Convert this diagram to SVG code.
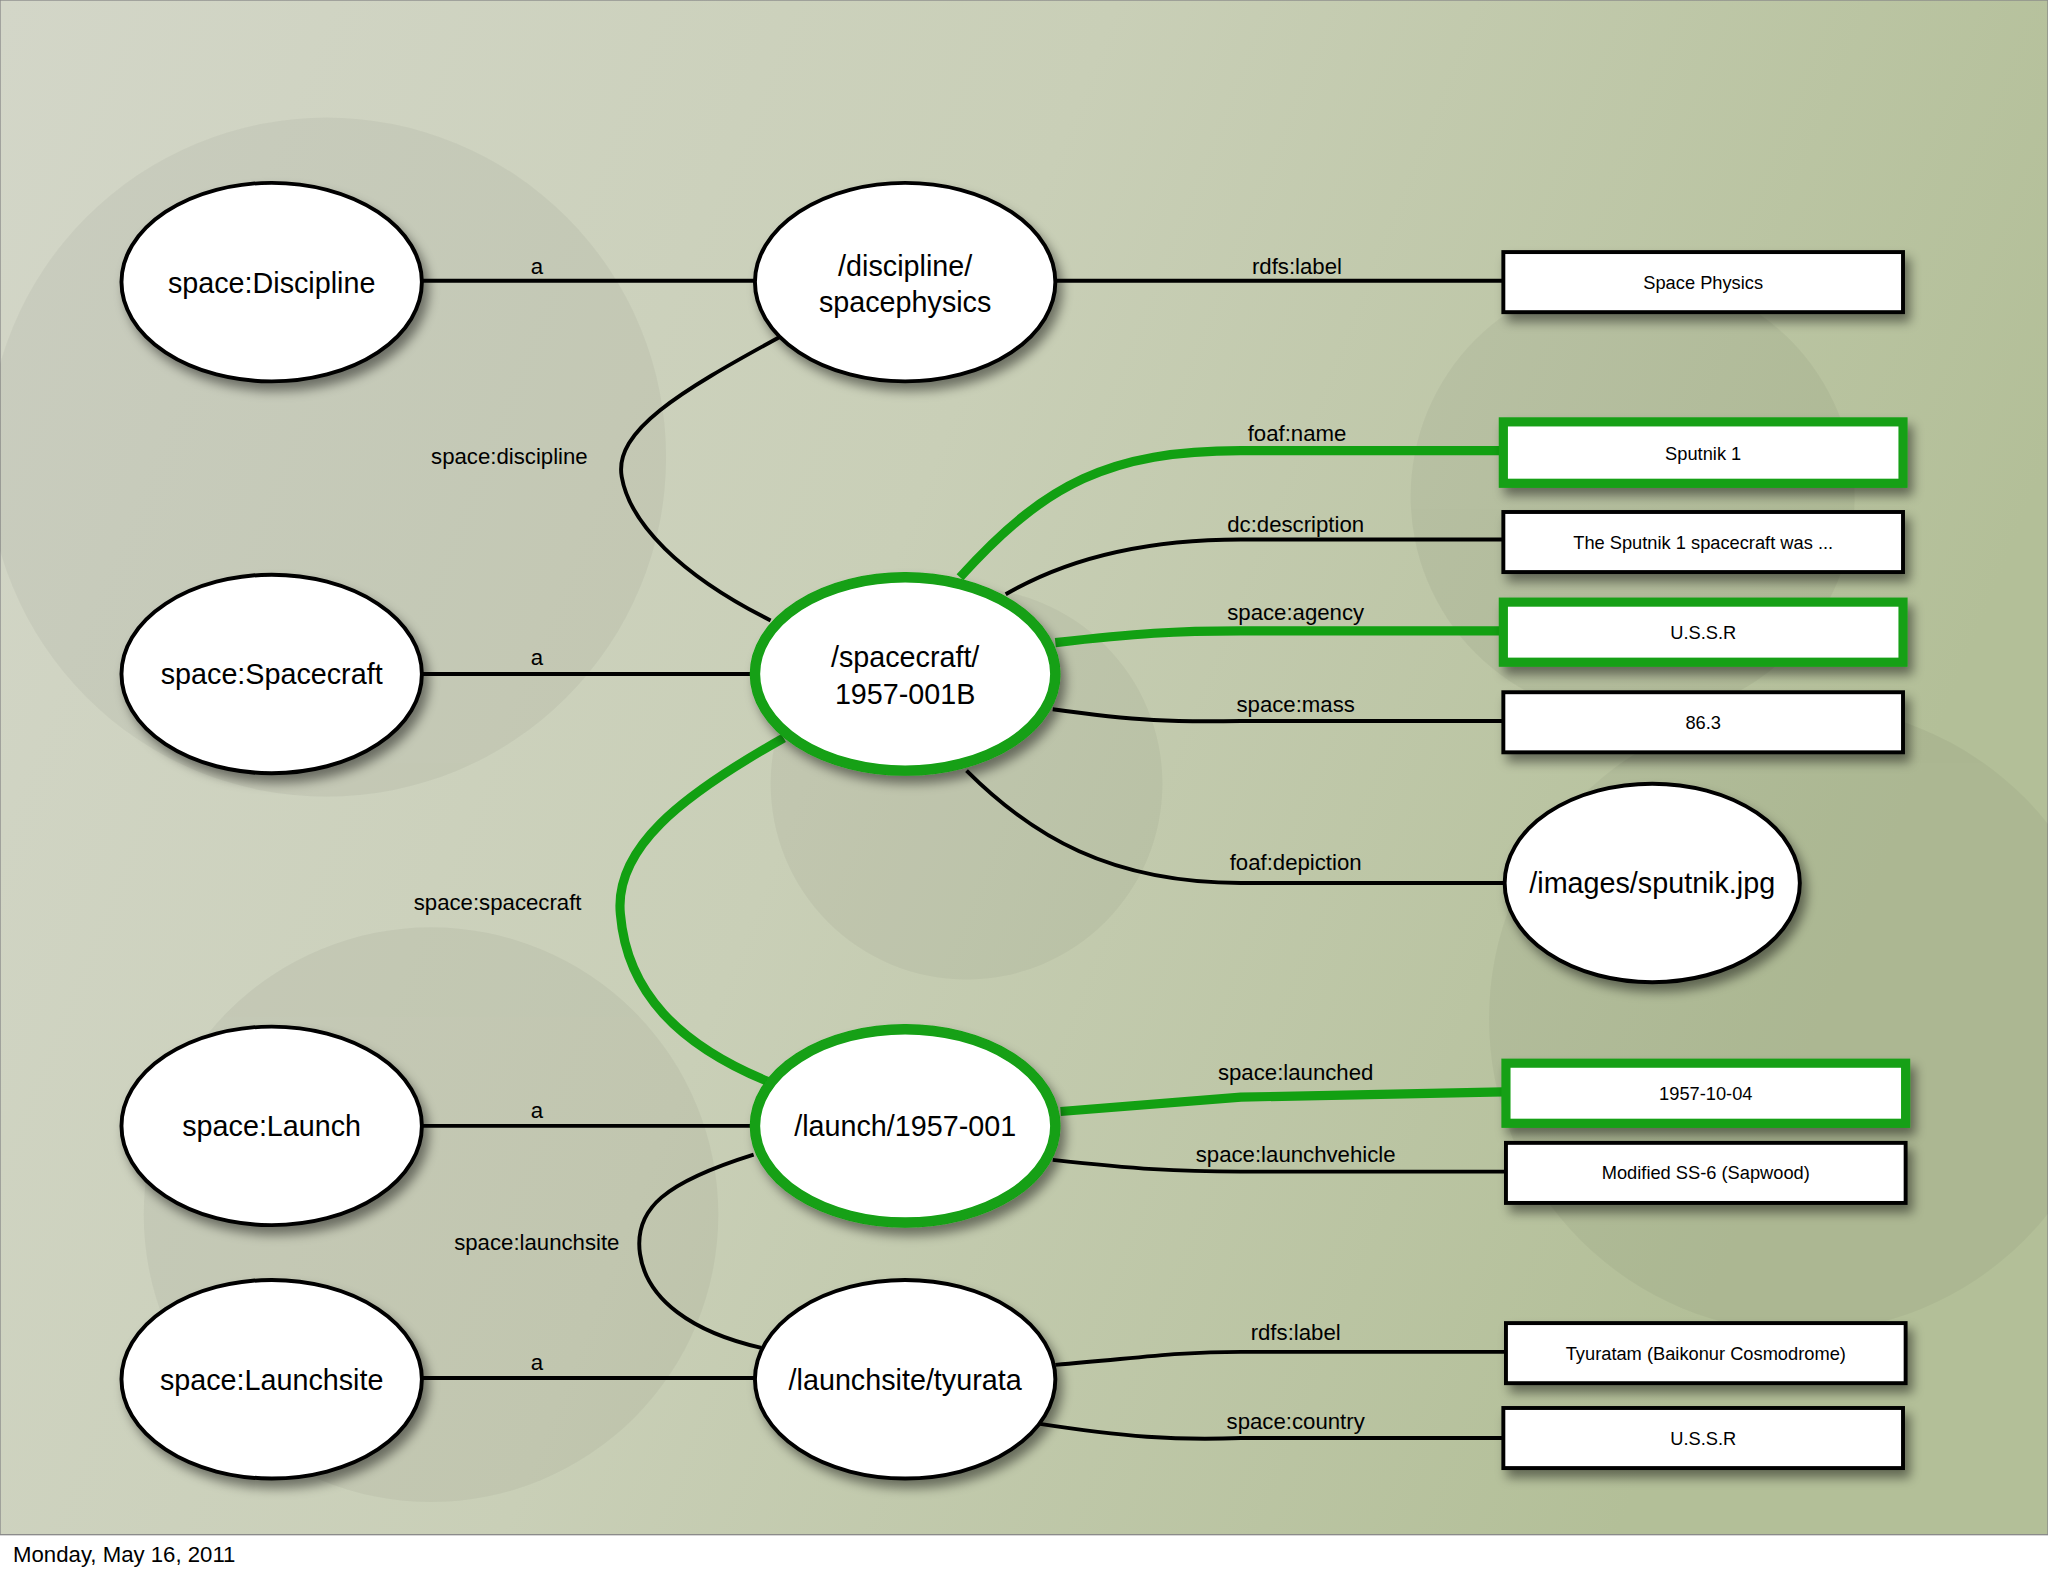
<svg xmlns="http://www.w3.org/2000/svg" width="2048" height="1576" viewBox="0 0 2048 1576">
<defs>
<linearGradient id="bg" x1="0" y1="0" x2="1" y2="0.3">
<stop offset="0" stop-color="#d3d6c8"/><stop offset="0.5" stop-color="#c9cfb7"/><stop offset="1" stop-color="#b3bf98"/>
</linearGradient>
<filter id="sh" x="-20%" y="-20%" width="150%" height="160%"><feDropShadow dx="4" dy="6" stdDeviation="4" flood-color="#000" flood-opacity="0.45"/></filter>
<style>
.el{fill:#fff;stroke:#000;stroke-width:3;filter:url(#sh)}
.elg{fill:#fff;stroke:#12a012;stroke-width:8;filter:url(#sh)}
.bx{fill:#fff;stroke:#000;stroke-width:3;filter:url(#sh)}
.bxg{fill:#fff;stroke:#12a012;stroke-width:7;filter:url(#sh)}
.e{fill:none;stroke:#000;stroke-width:3}
.g{fill:none;stroke:#12a012;stroke-width:7}
text{font-family:"Liberation Sans",Arial,sans-serif;fill:#000;text-anchor:middle}
.t{font-size:22px}
.l{font-size:17px}
.b{font-size:14px}
</style>
</defs>
<rect width="2048" height="1576" fill="#fff"/>
<g transform="scale(1.30612)">
<rect x="0" y="0" width="1568" height="1175" fill="url(#bg)" stroke="#888" stroke-width="1"/>
<g fill="#000" opacity="0.04">
<circle cx="250" cy="350" r="260"/><circle cx="740" cy="600" r="150"/><circle cx="330" cy="930" r="220"/><circle cx="1380" cy="780" r="240"/><circle cx="1250" cy="380" r="170"/>
</g>
<g id="connectors">
<path class="e" d="M323,215 L578,215"/><text class="l" x="411" y="210">a</text>
<path class="e" d="M808,215 L1151,215"/><text class="l" x="993" y="210">rdfs:label</text>
<path class="e" d="M597,258 C520,300 470,330 476,365 C482,400 520,440 590,475"/><text class="l" x="390" y="355">space:discipline</text>
<path class="e" d="M323,516 L576,516"/><text class="l" x="411" y="509">a</text>
<path class="g" d="M735,442 C800,370 850,345 950,345 L1151,345"/><text class="l" x="993" y="338">foaf:name</text>
<path class="e" d="M770,455 C830,420 900,413 950,413 L1151,413"/><text class="l" x="992" y="407">dc:description</text>
<path class="g" d="M808,492 C870,485 900,483 950,483 L1151,483"/><text class="l" x="992" y="475">space:agency</text>
<path class="e" d="M806,543 C870,552 900,553 950,552 L1151,552"/><text class="l" x="992" y="545">space:mass</text>
<path class="e" d="M740,590 C790,640 850,676 950,676 L1151,676"/><text class="l" x="992" y="666">foaf:depiction</text>
<path class="g" d="M600,565 C520,610 470,650 475,700 C480,760 520,800 588,828"/><text class="l" x="381" y="697">space:spacecraft</text>
<path class="e" d="M323,862 L575,862"/><text class="l" x="411" y="856">a</text>
<path class="g" d="M812,851 L950,840 L1151,836"/><text class="l" x="992" y="827">space:launched</text>
<path class="e" d="M806,888 C870,895 900,897 950,897 L1153,897"/><text class="l" x="992" y="890">space:launchvehicle</text>
<path class="e" d="M577,884 C510,905 485,925 490,960 C495,995 530,1020 583,1032"/><text class="l" x="411" y="957">space:launchsite</text>
<path class="e" d="M323,1055 L578,1055"/><text class="l" x="411" y="1049">a</text>
<path class="e" d="M808,1045 C870,1040 900,1035 950,1035 L1153,1035"/><text class="l" x="992" y="1026">rdfs:label</text>
<path class="e" d="M795,1090 C860,1100 900,1103 950,1101 L1151,1101"/><text class="l" x="992" y="1094">space:country</text>
</g>
<g id="n-discipline"><ellipse class="el" cx="208" cy="216" rx="115" ry="76"/><text class="t" x="208" y="224">space:Discipline</text></g>
<g id="n-spacecraft"><ellipse class="el" cx="208" cy="516" rx="115" ry="76"/><text class="t" x="208" y="524">space:Spacecraft</text></g>
<g id="n-launch"><ellipse class="el" cx="208" cy="862" rx="115" ry="76"/><text class="t" x="208" y="870">space:Launch</text></g>
<g id="n-launchsite"><ellipse class="el" cx="208" cy="1056" rx="115" ry="76"/><text class="t" x="208" y="1064">space:Launchsite</text></g>
<g id="n-spacephysics"><ellipse class="el" cx="693" cy="216" rx="115" ry="76"/><text class="t" x="693" y="211">/discipline/</text><text class="t" x="693" y="239">spacephysics</text></g>
<g id="n-sc1957"><ellipse class="elg" cx="693" cy="516" rx="115" ry="74"/><text class="t" x="693" y="511">/spacecraft/</text><text class="t" x="693" y="539">1957-001B</text></g>
<g id="n-l1957"><ellipse class="elg" cx="693" cy="862" rx="115" ry="74"/><text class="t" x="693" y="870">/launch/1957-001</text></g>
<g id="n-tyurata"><ellipse class="el" cx="693" cy="1056" rx="115" ry="76"/><text class="t" x="693" y="1064">/launchsite/tyurata</text></g>
<g id="n-image"><ellipse class="el" cx="1265" cy="676" rx="113" ry="76"/><text class="t" x="1265" y="684">/images/sputnik.jpg</text></g>
<g id="b-sp"><rect class="bx" x="1151" y="193" width="306" height="46"/><text class="b" x="1304" y="221">Space Physics</text></g>
<g id="b-name"><rect class="bxg" x="1151" y="323" width="306" height="47"/><text class="b" x="1304" y="352">Sputnik 1</text></g>
<g id="b-desc"><rect class="bx" x="1151" y="392" width="306" height="46"/><text class="b" x="1304" y="420">The Sputnik 1 spacecraft was ...</text></g>
<g id="b-agency"><rect class="bxg" x="1151" y="461" width="306" height="46"/><text class="b" x="1304" y="489">U.S.S.R</text></g>
<g id="b-mass"><rect class="bx" x="1151" y="530" width="306" height="46"/><text class="b" x="1304" y="558">86.3</text></g>
<g id="b-date"><rect class="bxg" x="1153" y="814" width="306" height="46"/><text class="b" x="1306" y="842">1957-10-04</text></g>
<g id="b-veh"><rect class="bx" x="1153" y="875" width="306" height="46"/><text class="b" x="1306" y="903">Modified SS-6 (Sapwood)</text></g>
<g id="b-tyu"><rect class="bx" x="1153" y="1013" width="306" height="46"/><text class="b" x="1306" y="1041">Tyuratam (Baikonur Cosmodrome)</text></g>
<g id="b-country"><rect class="bx" x="1151" y="1078" width="306" height="46"/><text class="b" x="1304" y="1106">U.S.S.R</text></g>
<text x="10" y="1196" style="font-size:17px;text-anchor:start">Monday, May 16, 2011</text>
</g>
</svg>
